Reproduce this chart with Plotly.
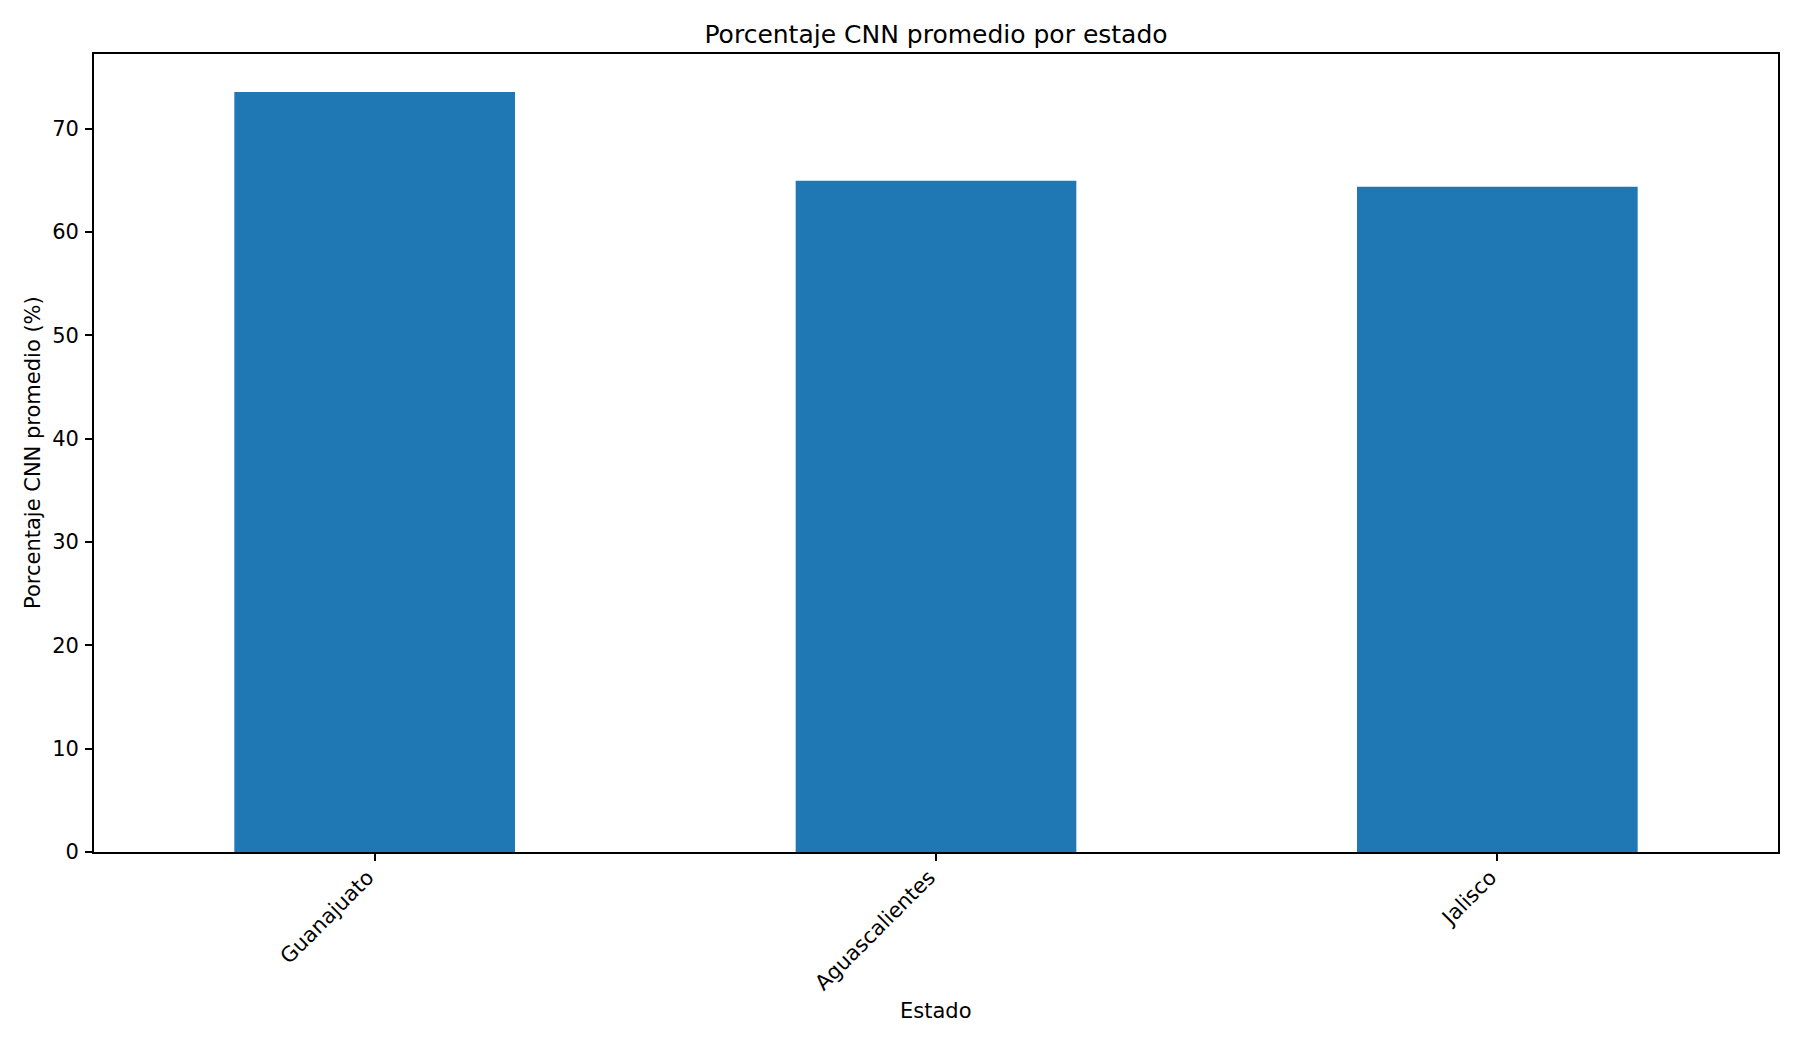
import plotly.graph_objects as go

estados = ["Guanajuato", "Aguascalientes", "Jalisco"]
porcentaje_cnn = [73.55, 64.97, 64.39]

titulo = "Porcentaje CNN promedio por estado"
x_titulo = "Estado"
y_titulo = "Porcentaje CNN promedio (%)"
y_ticks = [0, 10, 20, 30, 40, 50, 60, 70]

FONT = "DejaVu Sans"
OFF = 8  # page body margin offset
W, H = 1800, 1050
L, R, T, B = 94 - OFF, 22 + OFF, 54 - OFF, 197.5 + OFF
plot_h = H - T - B
plot_w = W - L - R

fig = go.Figure(
    go.Bar(
        x=estados,
        y=porcentaje_cnn,
        width=0.5,
        marker=dict(color="#1f77b4", line=dict(width=0)),
    )
)

axis_common = dict(
    showline=True,
    linecolor="#000000",
    linewidth=1.7,
    mirror=True,
    ticks="outside",
    ticklen=7,
    tickwidth=1.7,
    tickcolor="#000000",
    showgrid=False,
    zeroline=False,
    tickfont=dict(family=FONT, size=21, color="#000000"),
)

fig.update_xaxes(
    range=[-0.5, 2.5],
    tickangle=-45,
    ticklabelshift=-7,
    ticklabelstandoff=-4,
    **axis_common,
)
fig.update_yaxes(
    range=[0, max(porcentaje_cnn) * 1.05],
    tickvals=y_ticks,
    ticktext=[str(v) for v in y_ticks],
    ticklabelstandoff=2,
    **axis_common,
)

fig.update_layout(
    width=W,
    height=H,
    margin=dict(l=L, r=R, t=T, b=B, pad=0),
    plot_bgcolor="white",
    paper_bgcolor="white",
    showlegend=False,
    title=dict(
        text=titulo,
        x=(L + plot_w / 2) / W,
        xanchor="center",
        y=1 - (34 - OFF) / H,
        yanchor="middle",
        font=dict(family=FONT, size=25, color="#000000"),
    ),
    annotations=[
        dict(
            text=x_titulo,
            xref="paper", yref="paper",
            x=0.5, y=(T + plot_h - (1012 - OFF)) / plot_h,
            xanchor="center", yanchor="middle",
            showarrow=False,
            font=dict(family=FONT, size=21, color="#000000"),
        ),
        dict(
            text=y_titulo,
            xref="paper", yref="paper",
            x=((33 - OFF) - L) / plot_w, y=0.5,
            xanchor="center", yanchor="middle",
            textangle=-90,
            showarrow=False,
            font=dict(family=FONT, size=21, color="#000000"),
        ),
    ],
)

fig.write_html("out.html")
